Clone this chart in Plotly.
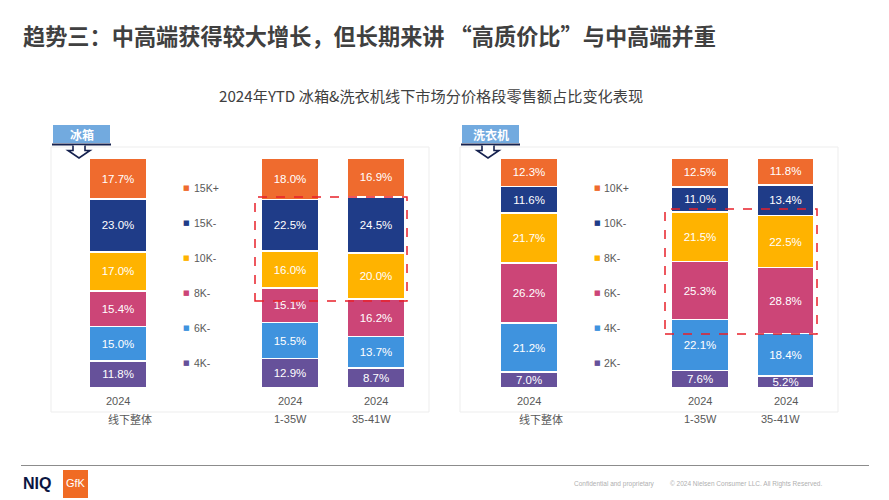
import plotly.graph_objects as go

# ---------------- data ----------------
categories = ["线下整体", "1-35W", "35-41W"]
year_labels = ["2024", "2024", "2024"]
axis_slots = ["线下整体", "_gap", "1-35W", "35-41W"]

fridge_segments = ["4K-", "6K-", "8K-", "10K-", "15K-", "15K+"]
fridge_4k = [11.8, 12.9, 8.7]
fridge_6k = [15.0, 15.5, 13.7]
fridge_8k = [15.4, 15.1, 16.2]
fridge_10k = [17.0, 16.0, 20.0]
fridge_15k = [23.0, 22.5, 24.5]
fridge_15kp = [17.7, 18.0, 16.9]

washer_segments = ["2K-", "4K-", "6K-", "8K-", "10K-", "10K+"]
washer_2k = [7.0, 7.6, 5.2]
washer_4k = [21.2, 22.1, 18.4]
washer_6k = [26.2, 25.3, 28.8]
washer_8k = [21.7, 21.5, 22.5]
washer_10k = [11.6, 11.0, 13.4]
washer_10kp = [12.3, 12.5, 11.8]

colors = ["#66519A", "#3F93DE", "#CC4577", "#FFB300", "#1F3C88", "#EF6B2E"]

title = "趋势三：中高端获得较大增长，但长期来讲 “高质价比”与中高端并重"
subtitle = "2024年YTD 冰箱&洗衣机线下市场分价格段零售额占比变化表现"

# ---------------- helpers ----------------
W, H = 889, 500
def X(p):
    return p / W
def Y(p):
    return 1 - p / H

FONT = "Liberation Sans, Arial, Noto Sans CJK SC, sans-serif"
CJK = "Noto Sans CJK SC, sans-serif"
GRAY = "#595959"

fig = go.Figure()
annotations = []
shapes = []

panels = [
    ("x", "y", fridge_segments,
     [fridge_4k, fridge_6k, fridge_8k, fridge_10k, fridge_15k, fridge_15kp]),
    ("x2", "y2", washer_segments,
     [washer_2k, washer_4k, washer_6k, washer_8k, washer_10k, washer_10kp]),
]

for xa, ya, segs, series in panels:
    for name, vals, col in zip(segs, series, colors):
        fig.add_trace(go.Bar(
            x=categories, y=vals, name=name, xaxis=xa, yaxis=ya,
            marker=dict(color=col, line=dict(color="white", width=1.5)),
            width=0.67, cliponaxis=False,
            texttemplate="%{y:.1f}%", textposition="inside",
            insidetextanchor="middle", constraintext="none",
            textfont=dict(color="white", size=11.5, family=FONT),
            showlegend=False, hoverinfo="skip",
        ))
    # legend (top-down: highest segment first)
    n = len(segs)
    for i, (name, col) in enumerate(zip(segs, colors)):
        ly = 87 - 15.2 * (n - 1 - i)
        annotations.append(dict(text="■", x=0.80, y=ly, xref=xa, yref=ya,
                                xanchor="center", yanchor="middle", showarrow=False,
                                font=dict(size=7, color=col, family="DejaVu Sans")))
        annotations.append(dict(text=name, x=0.80, y=ly, xref=xa, yref=ya, xshift=5,
                                xanchor="left", yanchor="middle", showarrow=False,
                                font=dict(size=10.5, color=GRAY, family=FONT)))

YMAX = 100.3
common_x = dict(type="category", categoryorder="array", categoryarray=axis_slots,
                showticklabels=False, showgrid=False, zeroline=False,
                showline=False, ticks="", fixedrange=True)
common_y = dict(range=[0, YMAX], showticklabels=False, showgrid=False,
                zeroline=False, showline=False,
                domain=[Y(388), Y(158 - (YMAX - 100) * 2.3)], fixedrange=True)

fig.update_layout(
    width=W, height=H, margin=dict(l=0, r=0, t=0, b=0),
    paper_bgcolor="white", plot_bgcolor="rgba(0,0,0,0)",
    barmode="stack", showlegend=False,
    xaxis=dict(common_x, domain=[X(52), X(428)], range=[(52 - 118) / 86, (428 - 118) / 86], anchor="y"),
    yaxis=dict(common_y, anchor="x"),
    xaxis2=dict(common_x, domain=[X(460), X(838)], range=[(460 - 529) / 85.5, (838 - 529) / 85.5], anchor="y2"),
    yaxis2=dict(common_y, anchor="x2"),
)

# titles
annotations.append(dict(text="<b>" + title + "</b>", x=X(21), y=Y(35), xref="paper", yref="paper",
                        xanchor="left", yanchor="middle", showarrow=False,
                        font=dict(size=22.2, color="#404040", family=CJK)))
annotations.append(dict(text=subtitle, x=X(431), y=Y(95), xref="paper", yref="paper",
                        xanchor="center", yanchor="middle", showarrow=False,
                        font=dict(size=15.2, color="#404040", family=CJK)))

# x labels
for xa in ["x", "x2"]:
    for i, (cat, yr) in enumerate(zip(categories, year_labels)):
        annotations.append(dict(text=yr, x=cat, y=Y(401), xref=xa, yref="paper",
                                xanchor="center", yanchor="middle", showarrow=False,
                                font=dict(size=11, color=GRAY, family=FONT)))
        if i == 0:
            annotations.append(dict(text=cat, x=cat, y=Y(419), xref=xa, yref="paper",
                                    xanchor="left", xshift=-12, yanchor="middle", showarrow=False,
                                    font=dict(size=11, color=GRAY, family=CJK)))
        else:
            annotations.append(dict(text=cat, x=cat, y=Y(419), xref=xa, yref="paper",
                                    xanchor="center", xshift=(-5 if i == 2 else 0), yanchor="middle",
                                    showarrow=False, font=dict(size=11, color=GRAY, family=FONT)))

# panel frames, tags, arrows
for x0, x1, tag in [(51, 429, "冰箱"), (460, 838, "洗衣机")]:
    shapes.append(dict(type="rect", xref="paper", yref="paper", x0=X(x0), x1=X(x1), y0=Y(412), y1=Y(147),
                       line=dict(color="#EDEDED", width=1), layer="below"))
    shapes.append(dict(type="rect", xref="paper", yref="paper", x0=X(x0 + 2), x1=X(x0 + 59), y0=Y(143), y1=Y(125),
                       line=dict(width=0), fillcolor="#72AADF"))
    shapes.append(dict(type="line", xref="paper", yref="paper", x0=X(x0 + 1), x1=X(x0 + 60), y0=Y(144.5), y1=Y(144.5),
                       line=dict(color="#16224F", width=2)))
    ax = x0 + 28
    path = (f"M {X(ax-6)},{Y(145.5)} L {X(ax-6)},{Y(150.5)} L {X(ax-11)},{Y(150.5)} L {X(ax)},{Y(158)} "
            f"L {X(ax+11)},{Y(150.5)} L {X(ax+6)},{Y(150.5)} L {X(ax+6)},{Y(145.5)}")
    shapes.append(dict(type="path", xref="paper", yref="paper", path=path,
                       line=dict(color="#16224F", width=1.6), fillcolor="white"))
    annotations.append(dict(text="<b>" + tag + "</b>", x=X(x0 + 30.5), y=Y(134), xref="paper", yref="paper",
                            xanchor="center", yanchor="middle", showarrow=False,
                            font=dict(size=12, color="white", family=CJK)))

# dashed highlight boxes
for x0, x1, y0, y1 in [(255, 407, 197, 301), (665, 817, 209, 334)]:
    shapes.append(dict(type="rect", xref="paper", yref="paper", x0=X(x0), x1=X(x1), y0=Y(y1), y1=Y(y0),
                       line=dict(color="#E8202A", width=1.5, dash="dash"), layer="above"))

# footer
shapes.append(dict(type="line", xref="paper", yref="paper", x0=X(21), x1=X(869), y0=Y(465.5), y1=Y(465.5),
                   line=dict(color="#8C8C8C", width=1.2)))
shapes.append(dict(type="rect", xref="paper", yref="paper", x0=X(63), x1=X(88), y0=Y(498), y1=Y(470),
                   line=dict(width=0), fillcolor="#F06B24"))
annotations.append(dict(text="<b>NIQ</b>", x=X(21), y=Y(483), xref="paper", yref="paper",
                        xanchor="left", yanchor="middle", showarrow=False,
                        font=dict(size=16, color="#0B1541", family="Liberation Sans, Arial")))
annotations.append(dict(text="GfK", x=X(75.5), y=Y(483), xref="paper", yref="paper",
                        xanchor="center", yanchor="middle", showarrow=False,
                        font=dict(size=11, color="white", family="Liberation Sans Narrow, Liberation Sans")))
annotations.append(dict(text="Confidential and proprietary", x=X(572), y=Y(484), xref="paper", yref="paper",
                        xanchor="left", yanchor="middle", showarrow=False,
                        font=dict(size=6.5, color="#AFAFAF", family=FONT)))
annotations.append(dict(text="© 2024 Nielsen Consumer LLC. All Rights Reserved.", x=X(668), y=Y(484),
                        xref="paper", yref="paper", xanchor="left", yanchor="middle", showarrow=False,
                        font=dict(size=6.5, color="#AFAFAF", family=FONT)))

fig.update_layout(shapes=shapes, annotations=annotations)
fig.write_html("out.html", config={"displayModeBar": False},
               post_script="document.body.style.margin='0';document.body.style.overflow='hidden';")
